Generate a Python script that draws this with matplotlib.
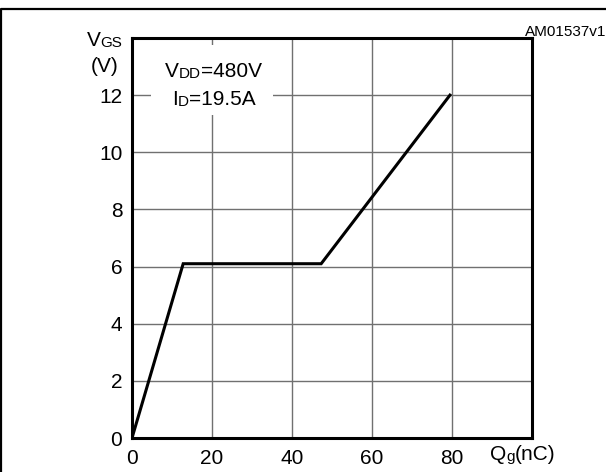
import matplotlib
matplotlib.use("Agg")
import matplotlib.pyplot as plt
from matplotlib.lines import Line2D
from matplotlib.patches import Rectangle

plt.rcParams['font.family'] = ['Liberation Sans', 'DejaVu Sans']

# Data
qg = [0, 12.8, 47.3, 79.5]        # gate charge, nC
vgs = [0, 6.1, 6.1, 12.0]         # gate-source voltage, V
xticks = [0, 20, 40, 60, 80]
yticks = [0, 2, 4, 6, 8, 10, 12]

BIG = 15
SMALL = 11

fig = plt.figure(figsize=(6.06, 4.72), dpi=100)
ax = fig.add_axes([0.2178, 0.072, 0.6600, 0.8475])

ax.plot(qg, vgs, color='black', lw=2.2, zorder=5, solid_joinstyle='miter')

ax.set_xlim(0, 100)
ax.set_ylim(0, 14)
ax.set_xticks(xticks)
ax.set_yticks(yticks)
ax.tick_params(length=0, labelsize=BIG)
ax.tick_params(axis='x', pad=8)
ax.tick_params(axis='y', pad=7)
ax.grid(True, color='#707070', lw=1.0, zorder=1)
ax.set_axisbelow(True)
for s in ax.spines.values():
    s.set_linewidth(2.2)

# white box behind the condition text
ax.add_patch(Rectangle((4.75, 11.3), 30.5, 2.45, facecolor='white',
                       edgecolor='none', zorder=2))


def chain(parts, first):
    # parts: list of (text, size); each piece sits right after the previous
    prev = first
    for txt, size in parts:
        prev = ax.annotate(txt, xy=(1, 0), xycoords=prev, fontsize=size,
                           va='bottom', ha='left', zorder=6,
                           annotation_clip=False)
    return prev


# test conditions
t = ax.text(0.082, 0.893, 'V', fontsize=BIG, transform=ax.transAxes,
            va='bottom', ha='left', zorder=6)
chain([('DD', SMALL), ('=480V', BIG)], t)

t = ax.text(0.100, 0.823, 'I', fontsize=BIG, transform=ax.transAxes,
            va='bottom', ha='left', zorder=6)
chain([('D', SMALL), ('=19.5A', BIG)], t)

# axis labels
t = fig.text(0.143, 0.895, 'V', fontsize=BIG, va='bottom', ha='left')
chain([('GS', SMALL)], t)
fig.text(0.150, 0.838, '(V)', fontsize=BIG, va='bottom', ha='left')

t = fig.text(0.808, 0.016, 'Q', fontsize=BIG, va='bottom', ha='left')
chain([('g', SMALL), ('(nC)', BIG)], t)

fig.text(1.0, 0.918, 'AM01537v1', fontsize=11, ha='right', va='bottom')

# outer frame (top and left edges)
fig.add_artist(Line2D([0.002, 0.002, 1.0], [0.0, 0.980, 0.980],
                      transform=fig.transFigure, color='black', lw=1.6))

fig.savefig('out.png', dpi=100)
